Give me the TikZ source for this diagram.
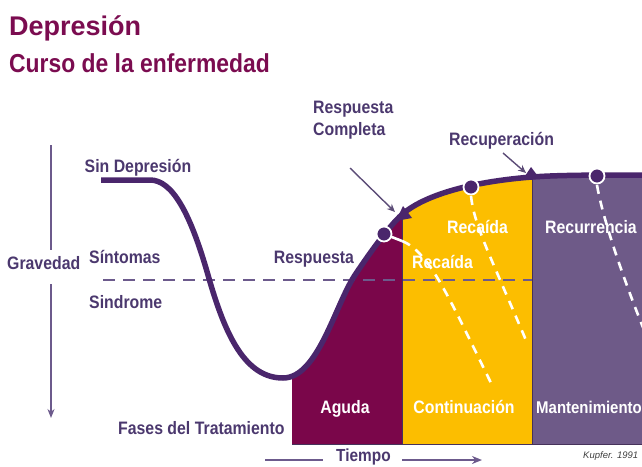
\documentclass[tikz,border=0pt]{standalone}
\usepackage{fontspec}
\setmainfont{Liberation Sans}
\newfontfamily\nf{Liberation Sans}[FakeStretch=0.88]
\usetikzlibrary{arrows.meta}
\definecolor{titlec}{RGB}{123,12,80}
\definecolor{labc}{RGB}{75,56,110}
\definecolor{curvec}{RGB}{74,38,108}
\definecolor{axisc}{RGB}{108,90,140}
\definecolor{maroonc}{RGB}{122,6,74}
\definecolor{goldc}{RGB}{252,190,0}
\definecolor{mauvec}{RGB}{110,90,136}
\definecolor{sepc}{RGB}{70,50,90}
\begin{document}
\begin{tikzpicture}[x=1pt,y=-1pt,
  lab/.style={font=\nf\bfseries\fontsize{18}{22}\selectfont, text=labc, inner sep=0pt, anchor=base west},
  wlab/.style={lab, text=white},
  dot/.style={circle, fill=curvec, draw=white, line width=1.8pt, minimum size=15pt, inner sep=0pt},
  wdash/.style={white, line width=2.6pt, dash pattern=on 9pt off 7pt},
  sepline/.style={sepc, line width=0.8pt},
  pointer/.style={axisc!85!black, line width=1.4pt, -{Stealth[length=8pt,width=7pt]}},
  axisline/.style={axisc, line width=2pt}]
\useasboundingbox (0,0) rectangle (642,466);
\clip (0,0) rectangle (642,466);

% titles
\node[font=\bfseries\fontsize{27}{30}\selectfont, text=titlec, inner sep=0pt, anchor=base west] (t1) at (9,35) {Depresión};
\node[font=\nf\bfseries\fontsize{26}{30}\selectfont, text=titlec, inner sep=0pt, anchor=base west] (t2) at (9,72) {Curso de la enfermedad};

% phase regions
\begin{scope}
\clip (283,378) .. controls (318,378) and (335,305) .. (355,275)
  .. controls (371,251) and (392,222) .. (405,212)
  .. controls (431,192) and (480,181) .. (532,177)
  .. controls (558,175) and (600,175) .. (642,175) -- (642,444) -- (283,444) -- cycle;
\fill[maroonc] (292,150) rectangle (402,444);
\fill[goldc] (402,150) rectangle (532,444);
\fill[mauvec] (532,150) rectangle (642,444);
\end{scope}
\draw[sepline] (402,212) -- (402,444);
\draw[sepline] (532,177) -- (532,444);
\draw[sepline] (292,444) -- (642,444);

% threshold dashed line
\draw[axisc, line width=2.5pt, dash pattern=on 12pt off 8pt] (103,280) -- (532,280);

% circles (coordinates)
\coordinate (p1) at (384,234);
\coordinate (p2) at (471,187);
\coordinate (p3) at (597,176);

% relapse lines
\draw[white, line width=2.6pt] (p1) -- (402,241);
\draw[wdash] (402,241) .. controls (430,252) and (450,300) .. (493,387);
\draw[wdash] (p2) ++(0,9) .. controls (474,225) and (490,255) .. (528,345);
\draw[wdash] (p3) ++(0,9) .. controls (602,215) and (620,270) .. (644,330);

% course curve
\draw[curvec, line width=5.5pt] (101,180) -- (150,180)
  .. controls (172,180) and (190,212) .. (208,275)
  .. controls (225,335) and (245,378) .. (283,378)
  .. controls (318,378) and (335,305) .. (355,275)
  .. controls (371,251) and (392,222) .. (405,212)
  .. controls (431,192) and (480,181) .. (532,177)
  .. controls (558,175) and (600,175) .. (642,175);

% markers on curve
\fill[curvec] (396,221) -- (403,206) -- (412,218) -- cycle;
\fill[curvec] (531,167) -- (523,179) -- (540,179) -- cycle;
\node[dot] (c1) at (p1) {};
\node[dot] (c2) at (p2) {};
\node[dot] (c3) at (p3) {};

% vertical axis
\node[lab] (grav) at (7,269) {Gravedad};
\coordinate (ax1) at (51,145);
\coordinate (ax2) at (51,250);
\coordinate (ax3) at (51,284);
\coordinate (ax4) at (51,418);
\draw[axisline] (ax1) -- (ax2);
\draw[axisline, -{Stealth[length=9pt,width=7pt]}] (ax3) -- (ax4);

% left labels
\node[lab, anchor=base] (sd) at (138,172) {Sin Depresión};
\node[lab] (sint) at (89,263) {Síntomas};
\node[lab] (sind) at (89,308) {Sindrome};
\node[lab] (fases) at (118,434) {Fases del Tratamiento};
\node[lab, anchor=base] (resp) at (314,263) {Respuesta};

% top labels and pointers
\node[lab, anchor=base west, align=left] (rc) at (313,135) {Respuesta\\Completa};
\node[lab] (recu) at (449,145) {Recuperación};
\coordinate (a1s) at (350,168);
\coordinate (a1e) at (395,212);
\coordinate (a2s) at (503,153);
\coordinate (a2e) at (526,173);
\draw[pointer] (a1s) -- (a1e);
\draw[pointer] (a2s) -- (a2e);

% region labels
\node[wlab] (rec1) at (447,233) {Recaída};
\node[wlab] (rec2) at (412,268) {Recaída};
\node[wlab] (recur) at (545,233) {Recurrencia};
\node[wlab, anchor=base] (ag) at (345,413) {Aguda};
\node[wlab, anchor=base] (co) at (464,413) {Continuación};
\node[wlab, anchor=base, font=\nf\bfseries\fontsize{17}{20}\selectfont] (ma) at (589,413) {Mantenimiento};

% time axis
\node[lab, font=\nf\bfseries\fontsize{17.5}{20}\selectfont] (tiempo) at (336,461.5) {Tiempo};
\coordinate (tl1) at (265,460);
\coordinate (tl2) at (323,460);
\coordinate (tr1) at (402,460);
\coordinate (tr2) at (482,460);
\draw[axisline] (tl1) -- (tl2);
\draw[axisline, -{Stealth[length=10pt,width=8pt]}] (tr1) -- (tr2);

\node[font=\itshape\fontsize{9.5}{11}\selectfont, text=black!75, inner sep=0pt, anchor=base west] (kup) at (583,458) {Kupfer. 1991};
\end{tikzpicture}
\end{document}
